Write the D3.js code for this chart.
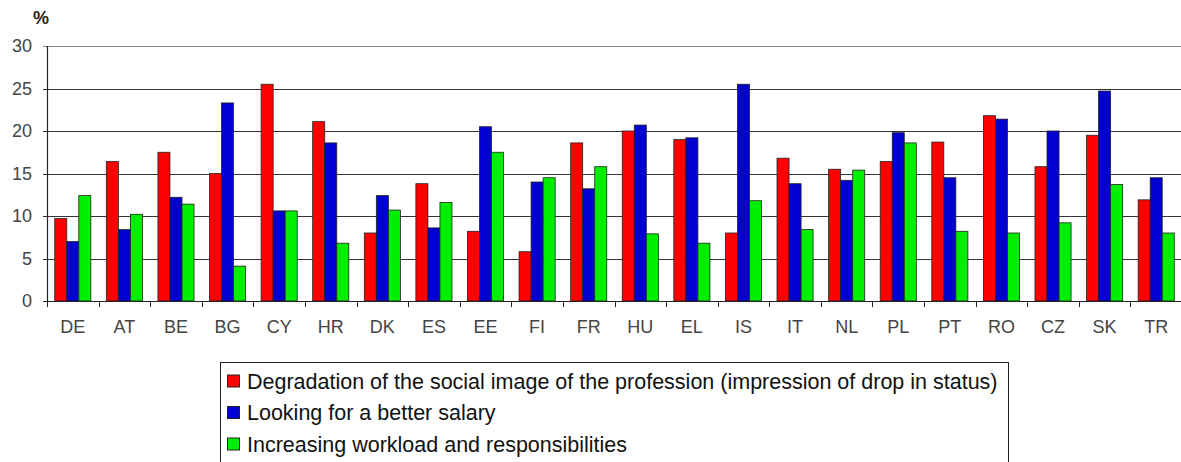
<!DOCTYPE html>
<html><head><meta charset="utf-8">
<script src="https://cdn.jsdelivr.net/npm/d3@7"></script>
<style>body{margin:0;background:#fff}svg{display:block}</style>
</head><body>
<svg id="c" width="1181" height="462"></svg>
<script>
const categories = ["DE","AT","BE","BG","CY","HR","DK","ES","EE","FI","FR","HU","EL","IS","IT","NL","PL","PT","RO","CZ","SK","TR"];
const degradation = [9.7,16.4,17.5,15.0,25.5,21.1,8.0,13.8,8.2,5.8,18.6,20.0,19.0,8.0,16.8,15.5,16.4,18.7,21.8,15.8,19.5,11.9];
const salary      = [7.0,8.4,12.2,23.3,10.6,18.6,12.4,8.6,20.5,14.0,13.2,20.7,19.2,25.5,13.8,14.2,19.8,14.5,21.4,20.0,24.7,14.5];
const workload    = [12.4,10.2,11.4,4.1,10.6,6.8,10.7,11.6,17.5,14.5,15.8,7.9,6.8,11.8,8.4,15.4,18.6,8.2,8.0,9.2,13.7,8.0];
const seriesNames = ["Degradation of the social image of the profession (impression of drop in status)","Looking for a better salary","Increasing workload and responsibilities"];
const seriesColors = ["#ff0000","#0000d0","#00ee00"];
const yTicks = [0,5,10,15,20,25,30];

(function(){
const svg = d3.select("#c");
const pL = 47, pR = 1182, pT = 46, pB = 301;
const font = "Arial, 'Liberation Sans', sans-serif";

const x0 = d3.scaleBand().domain(categories).range([pL, pR]).paddingInner(0.3).paddingOuter(0.15);
const x1 = d3.scaleBand().domain([0,1,2]).range([0, x0.bandwidth()]);
const y = d3.scaleLinear().domain([0,30]).range([pB, pT]);
const step = x0.step();

svg.append("g").selectAll("line").data(yTicks.filter(d=>d>0)).join("line")
  .attr("x1", pL-4).attr("x2", 1181)
  .attr("y1", d=>Math.round(y(d))+0.5).attr("y2", d=>Math.round(y(d))+0.5)
  .attr("stroke", d=>d===30?"#888":"#333").attr("stroke-width",1.2);

svg.append("g").selectAll("text").data(yTicks).join("text")
  .attr("x", 32).attr("y", d=>y(d)).attr("dy","0.35em")
  .attr("text-anchor","end").attr("font-family",font).attr("font-size",18).attr("fill","#444")
  .text(d=>d);

svg.append("text").attr("x",33).attr("y",24).attr("font-family",font).attr("font-size",18)
  .attr("font-weight","bold").attr("fill","#222").text("%");

const series = [degradation, salary, workload];
const g = svg.append("g");
categories.forEach((c,i)=>{
  series.forEach((s,k)=>{
    g.append("rect")
      .attr("x", x0(c)+x1(k)).attr("width", x1.bandwidth())
      .attr("y", y(s[i])).attr("height", y(0)-y(s[i]))
      .attr("fill", seriesColors[k]).attr("stroke","#222").attr("stroke-width",0.8);
  });
});

svg.append("line").attr("x1",pL+0.5).attr("x2",pL+0.5).attr("y1",pT).attr("y2",pB)
  .attr("stroke","#222").attr("stroke-width",1.2);
svg.append("line").attr("x1",pL-4).attr("x2",1181).attr("y1",pB+0.5).attr("y2",pB+0.5)
  .attr("stroke","#222").attr("stroke-width",1.2);
svg.append("g").selectAll("line").data(d3.range(categories.length+1)).join("line")
  .attr("x1", d=>Math.round(pL + d*step)+0.5).attr("x2", d=>Math.round(pL + d*step)+0.5)
  .attr("y1", pB).attr("y2", pB+6).attr("stroke","#222");

svg.append("g").selectAll("text").data(categories).join("text")
  .attr("x", d=>x0(d)+x0.bandwidth()/2).attr("y", 327).attr("dy","0.35em")
  .attr("text-anchor","middle").attr("font-family",font).attr("font-size",18).attr("fill","#444")
  .text(d=>d);

const lg = svg.append("g");
lg.append("rect").attr("x",220.5).attr("y",362.5).attr("width",788).attr("height",110)
  .attr("fill","#fff").attr("stroke","#222");
seriesNames.forEach((n,k)=>{
  const cy = 381 + k*31.5;
  lg.append("rect").attr("x",227.5).attr("y",cy-6).attr("width",12).attr("height",12)
    .attr("fill",seriesColors[k]).attr("stroke","#222");
  lg.append("text").attr("x",247).attr("y",cy).attr("dy","0.36em")
    .attr("font-family",font).attr("font-size",21.5).attr("fill","#111").text(n);
});
})();
</script>
</body></html>
